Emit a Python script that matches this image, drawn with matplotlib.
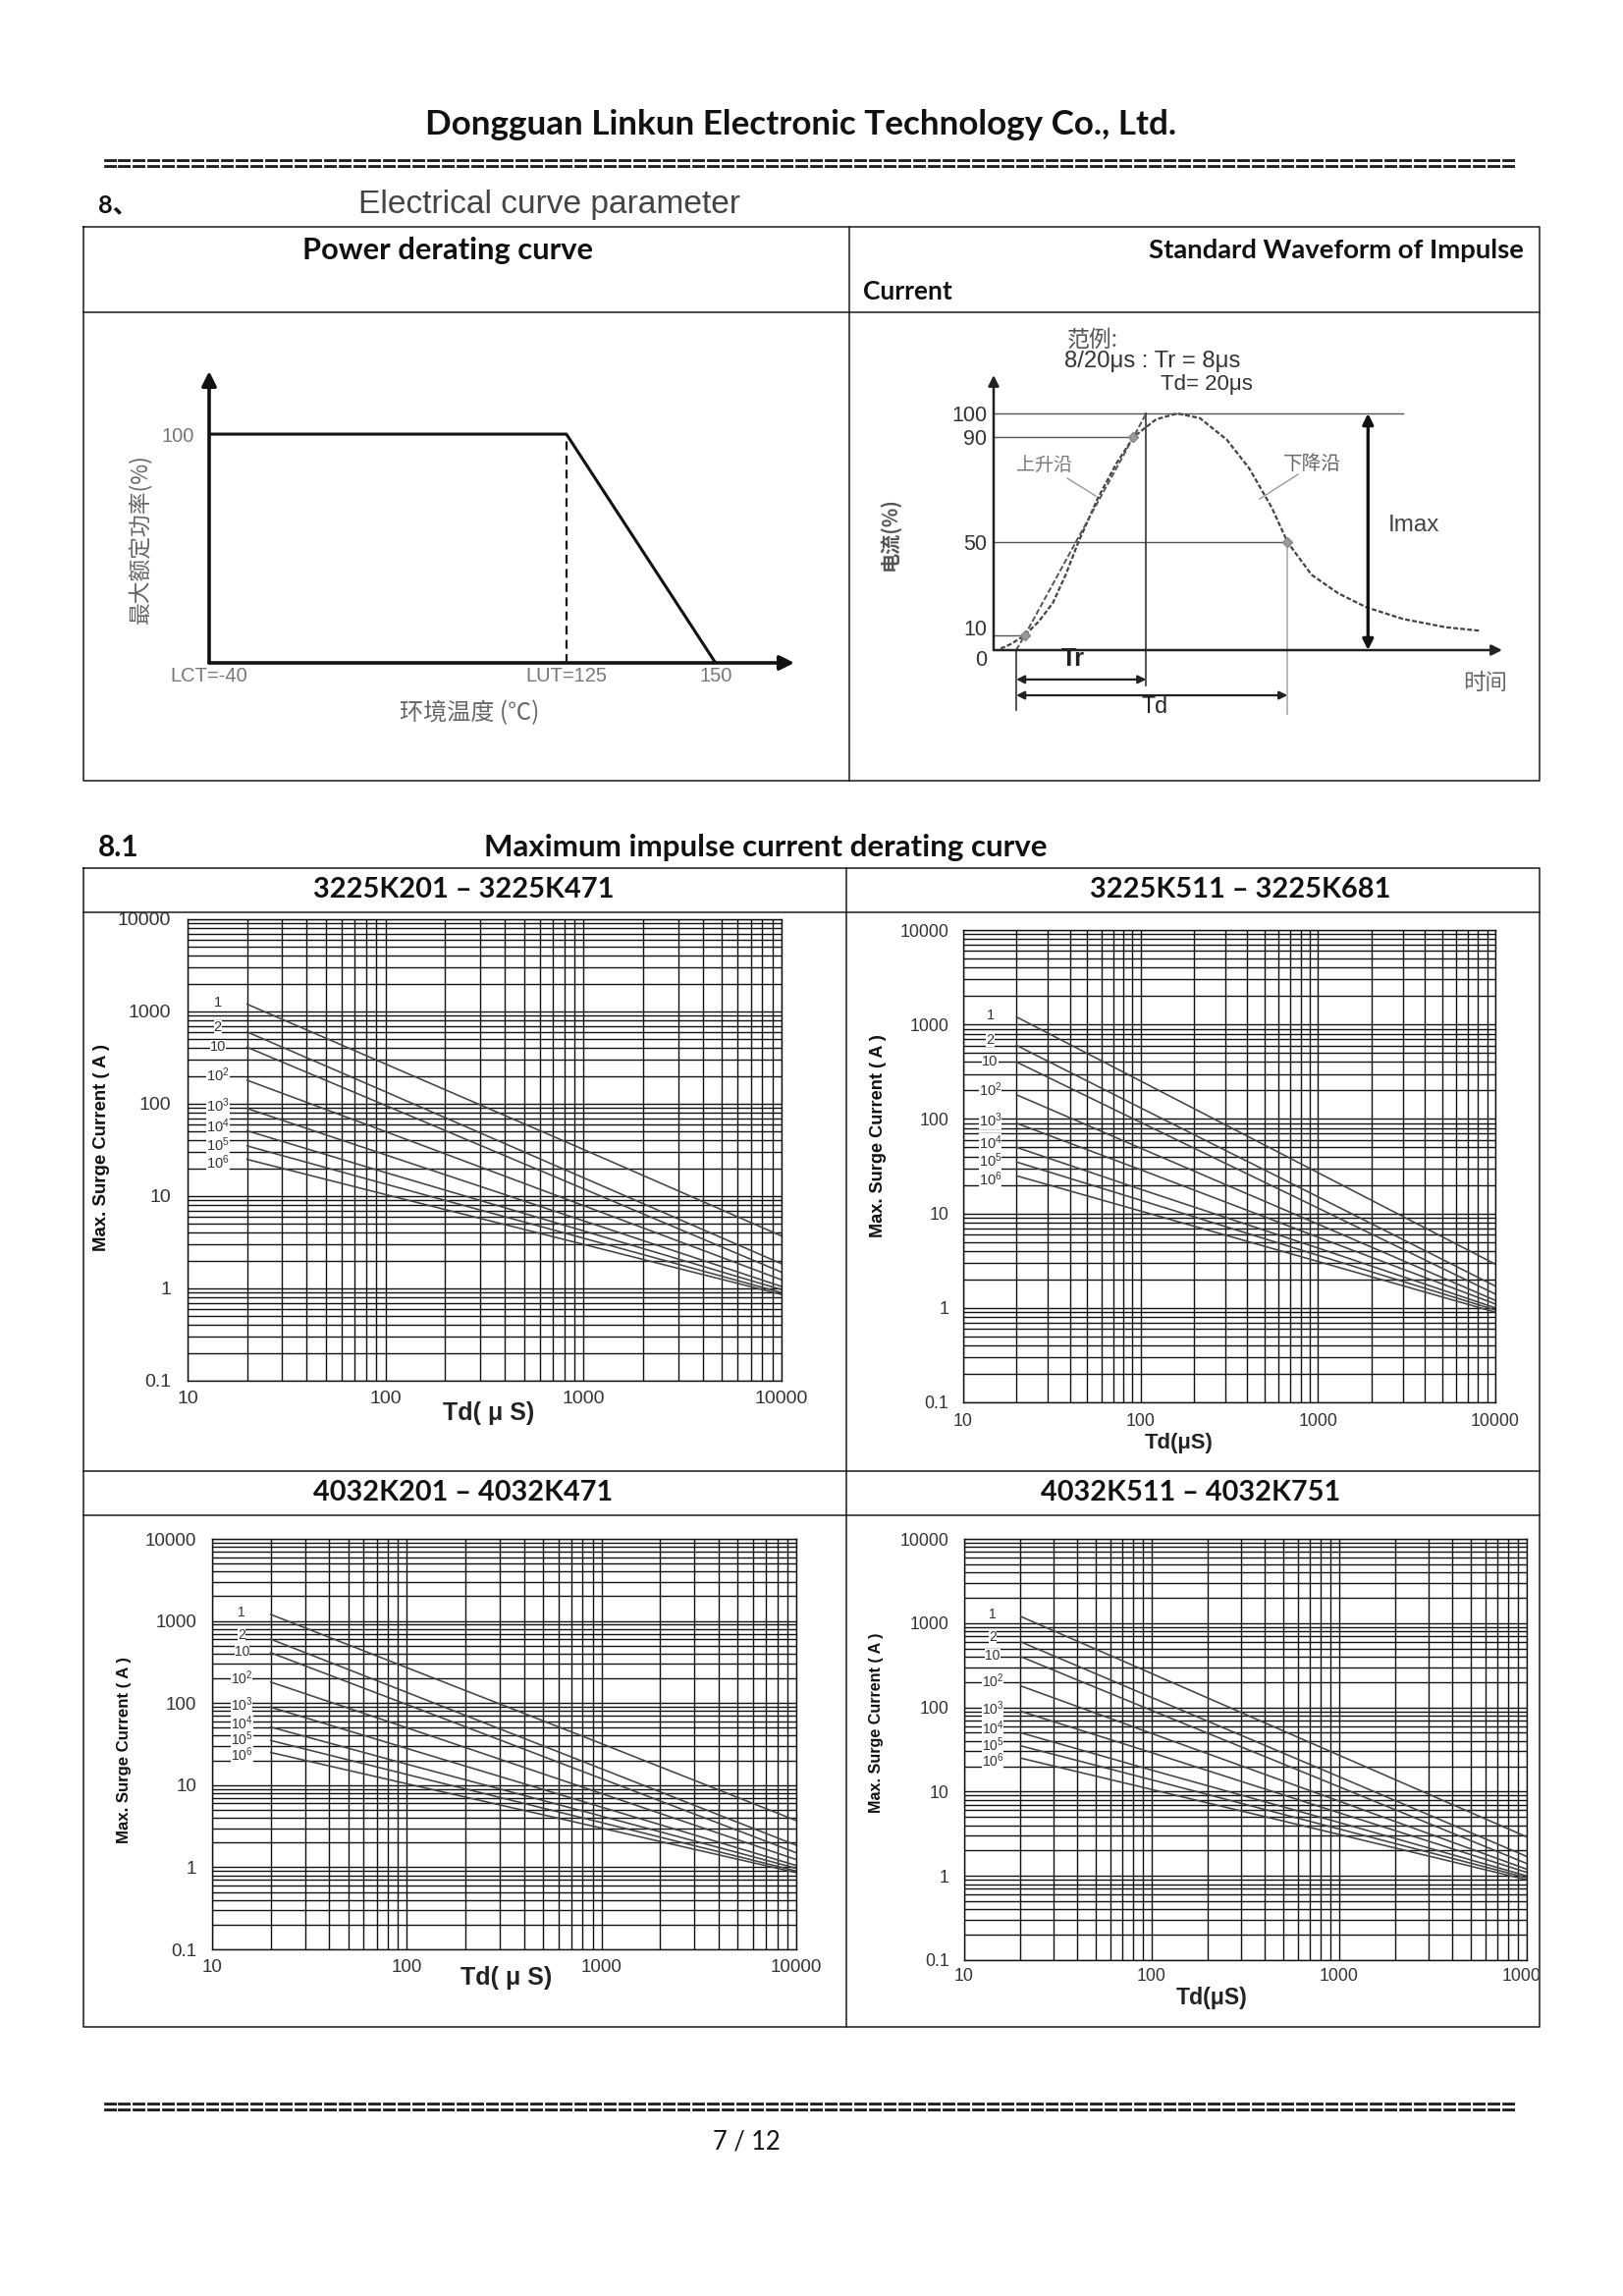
import numpy as np
import matplotlib
matplotlib.use('Agg')
import matplotlib.pyplot as plt
from matplotlib.lines import Line2D
from matplotlib.ticker import FixedLocator, NullFormatter, LogLocator
from matplotlib.transforms import Bbox, TransformedBbox

plt.rcParams['font.family'] = ['Liberation Sans', 'DejaVu Sans']
plt.rcParams['mathtext.fontset'] = 'custom'
plt.rcParams['mathtext.rm'] = 'Liberation Sans'
plt.rcParams['mathtext.it'] = 'Liberation Sans:italic'
plt.rcParams['mathtext.bf'] = 'Liberation Sans:bold'

# ------------------------------------------------------------------ data
# 8. Power derating curve
DERATE_TEMP = [-40, 125, 150]
DERATE_POWER = [100, 100, 0]
DERATE_XLABELS = ['LCT=-40', 'LUT=125', '150']
DERATE_YTICKS = [100]

# Standard 8/20 us impulse waveform (time in us, current in %)
WAVE_T = [0.5, 1.2, 2.2, 3.2, 4.2, 5.1, 6.0, 7.4, 8.7, 9.9, 11.5, 13.0, 14.6,
          16.5, 18.1, 19.7, 20.8, 22.5, 24.4, 26.4, 29.0, 32.0, 34.4]
WAVE_I = [1, 4, 10, 16, 24, 36, 50, 67, 80, 90, 97.5, 100, 98,
          89, 78, 63, 50, 36, 28, 22, 17, 13.5, 12]
RISE_T = [1.6, 2.2, 9.9, 10.8]
RISE_I = [0, 10, 90, 100]
MARK_T = [2.2, 9.9, 20.8]
MARK_I = [10, 90, 50]
LEVELS = [100, 90, 50, 10]
LEVEL_END_T = [29.0, 9.9, 20.8, 2.2]
WAVE_YTICKS = [0, 10, 50, 90, 100]
T_O1, T_TR_END, T_TD_END, T_IMAX = 1.6, 10.8, 20.8, 26.5

# 8.1 Maximum impulse current derating curves
TD_US = [20, 100, 1000, 10000]
PULSE_LABELS = ['1', '2', '10', '10$^{2}$', '10$^{3}$', '10$^{4}$', '10$^{5}$', '10$^{6}$']
SURGE_LEFT = [[1200, 270, 32, 3.7],
              [600, 135, 15.8, 1.85],
              [410, 96, 12, 1.5],
              [180, 50, 7.9, 1.24],
              [89, 28, 5.4, 1.05],
              [51, 18, 4.2, 0.97],
              [35, 13.5, 3.5, 0.9],
              [25, 10.4, 3.0, 0.86]]
SURGE_RIGHT = [[1200, 252, 27, 2.9],
               [600, 131, 15, 1.7],
               [400, 92, 11.4, 1.4],
               [180, 49, 7.7, 1.2],
               [90, 29, 5.6, 1.1],
               [50, 18, 4.3, 1.0],
               [35, 13.8, 3.6, 0.95],
               [25, 10.6, 3.1, 0.9]]
X_TICKS = [10, 100, 1000, 10000]
X_TICKLABELS = ['10', '100', '1000', '10000']
Y_TICKS = [0.1, 1, 10, 100, 1000, 10000]
Y_TICKLABELS = ['0.1', '1', '10', '100', '1000', '10000']
PANEL_TITLES = ['3225K201 \u2013 3225K471', '3225K511 \u2013 3225K681',
                '4032K201 \u2013 4032K471', '4032K511 \u2013 4032K751']

# label placement factors (layout only, relative to each curve's first point)
LABEL_NUDGE = [1.05, 1.13, 1.02, 1.13, 1.07, 1.13, 1.04, 0.93]

# ------------------------------------------------------------------ page
W, H = 1653, 2338
fig = plt.figure(figsize=(W / 100, H / 100), dpi=100)
fig.patch.set_facecolor('white')
renderer = fig.canvas.get_renderer()

HEAD = ['Lato', 'Noto Sans CJK SC', 'DejaVu Sans']
CJK = ['Noto Sans CJK SC', 'DejaVu Sans']
NARROW = ['Liberation Sans Narrow', 'Liberation Sans', 'DejaVu Sans']


def ax_at(l, t, r, b):
    return fig.add_axes([l / W, 1 - b / H, (r - l) / W, (b - t) / H])


def fit_text(x, y, s, length, size0=20, rot=0, **kw):
    t = fig.text(x / W, 1 - y / H, s, fontsize=size0, rotation=rot, **kw)
    bb = t.get_window_extent(renderer=renderer)
    cur = bb.height if rot in (90, 270) else bb.width
    t.set_fontsize(size0 * length / cur)
    return t


def fline(xs, ys, **kw):
    kw.setdefault('color', '#1a1a1a')
    kw.setdefault('lw', 1.1)
    fig.add_artist(Line2D([x / W for x in xs], [1 - y / H for y in ys],
                          transform=fig.transFigure, **kw))


def frect(l, t, r, b, **kw):
    fline([l, r, r, l, l], [t, t, b, b, t], **kw)


# header
fit_text(816, 127, 'Dongguan Linkun Electronic Technology Co., Ltd.', 765,
         family=HEAD, weight='bold', ha='center', va='center', color='#111')
fit_text(825, 168, '=' * 96, 1450, family='DejaVu Sans Mono', weight='bold',
         ha='center', va='center', color='#222')
fit_text(100, 209, '8\u3001', 40, family=HEAD, weight='bold', ha='left', va='center', color='#111')
fit_text(365, 209, 'Electrical curve parameter', 388, ha='left', va='center', color='#444')

# table 1
frect(85, 231, 1568, 795)
fline([85, 1568], [318, 318])
fline([865, 865], [231, 795])
fit_text(456, 255, 'Power derating curve', 295, family=HEAD, weight='bold',
         ha='center', va='center', color='#111')
fit_text(1552, 255, 'Standard Waveform of Impulse', 382, family=HEAD, weight='bold',
         ha='right', va='center', color='#111')
fit_text(879, 297, 'Current', 91, family=HEAD, weight='bold', ha='left', va='center', color='#111')


# ---------------- power derating chart
def fwd_t(t):
    return np.interp(t, [-60, -40, 125, 150, 200], [-44, 0, 364, 516, 820])


def inv_t(p):
    return np.interp(p, [-44, 0, 364, 516, 820], [-60, -40, 125, 150, 200])


axd = ax_at(213, 378, 809, 675)
axd.set_xscale('function', functions=(fwd_t, inv_t))
axd.set_xlim(-40, 163.2)
axd.set_ylim(0, 127.5)
for s in axd.spines.values():
    s.set_visible(False)
axd.patch.set_alpha(0)
axd.plot(DERATE_TEMP, DERATE_POWER, color='#111', lw=2.2, solid_capstyle='butt', clip_on=False)
axd.plot([DERATE_TEMP[1], DERATE_TEMP[1]], [0, DERATE_POWER[1]], color='#111', lw=1.6,
         ls=(0, (4, 2.5)))
arrow_kw = dict(arrowstyle='-|>', color='#111', lw=2.6, mutation_scale=22, shrinkA=0, shrinkB=0)
axd.annotate('', xy=(0, 1), xytext=(0, 0), xycoords='axes fraction', arrowprops=arrow_kw)
axd.annotate('', xy=(1, 0), xytext=(0, 0), xycoords='axes fraction', arrowprops=arrow_kw)
axd.set_xticks(DERATE_TEMP, labels=DERATE_XLABELS)
axd.set_yticks(DERATE_YTICKS, labels=[str(v) for v in DERATE_YTICKS])
axd.xaxis.set_minor_locator(FixedLocator([]))
axd.tick_params(length=0, labelsize=14.5, labelcolor='#777')
axd.tick_params(axis='x', pad=3)
axd.tick_params(axis='y', pad=11)
fit_text(142, 549, '最大额定功率(%)', 173, rot=90, family=CJK, ha='center', va='center', color='#666')
fit_text(478, 726, '环境温度 (℃)', 142, family=CJK, ha='center', va='center', color='#666')


# ---------------- standard waveform chart
def fwd_y(v):
    return np.interp(v, [-50, 0, 10, 50, 90, 100, 140], [-120.5, 0, 15, 110, 217, 241, 337])


def inv_y(p):
    return np.interp(p, [-120.5, 0, 15, 110, 217, 241, 337], [-50, 0, 10, 50, 90, 100, 140])


axw = ax_at(1012, 382, 1530, 662)
axw.set_yscale('function', functions=(fwd_y, inv_y))
axw.set_xlim(0, 36)
axw.set_ylim(0, 116.25)
for s in axw.spines.values():
    s.set_visible(False)
axw.patch.set_alpha(0)
for lv, te in zip(LEVELS, LEVEL_END_T):
    axw.plot([0, te], [lv, lv], color='#555', lw=1.0)
axw.plot([T_O1, T_O1], [0, -25.3], color='#333', lw=1.2, clip_on=False)
axw.plot([T_TR_END, T_TR_END], [100, -15], color='#333', lw=1.2, clip_on=False)
axw.plot([T_TD_END, T_TD_END], [50, -27], color='#aaa', lw=1.2, clip_on=False)
axw.plot(WAVE_T, WAVE_I, color='#444', lw=1.6, ls=(0, (2.2, 1.0)))
axw.plot(RISE_T, RISE_I, color='#555', lw=1.4, ls=(0, (3, 1.3)))
axw.plot(MARK_T, MARK_I, 'D', color='#999', ms=5, mec='#888')
ax_kw = dict(arrowstyle='-|>', color='#222', lw=1.8, mutation_scale=16, shrinkA=0, shrinkB=0)
axw.annotate('', xy=(0, 1), xytext=(0, 0), xycoords='axes fraction', arrowprops=ax_kw)
axw.annotate('', xy=(1, 0), xytext=(0, 0), xycoords='axes fraction', arrowprops=ax_kw)
dbl = dict(arrowstyle='<|-|>', color='#222', lw=1.6, mutation_scale=12, shrinkA=0, shrinkB=0)
axw.annotate('', xy=(T_TR_END, -12.4), xytext=(T_O1, -12.4), arrowprops=dbl, annotation_clip=False)
axw.annotate('', xy=(T_TD_END, -19.1), xytext=(T_O1, -19.1), arrowprops=dbl, annotation_clip=False)
imax = dict(arrowstyle='<|-|>', color='#111', lw=2.4, mutation_scale=16, shrinkA=0, shrinkB=0)
axw.annotate('', xy=(T_IMAX, 100), xytext=(T_IMAX, 0), arrowprops=imax, annotation_clip=False)
axw.set_xticks([])
axw.set_yticks(WAVE_YTICKS, labels=[str(v) for v in WAVE_YTICKS])
axw.yaxis.set_minor_locator(FixedLocator([]))
axw.tick_params(length=0, labelsize=15.5, labelcolor='#333', pad=5)
wlabels = axw.get_yticklabels()
wlabels[1].set_verticalalignment('baseline')   # "10" sits just above its line
wlabels[0].set_verticalalignment('top')        # "0" hangs just below the "10"

fit_text(1087, 346, '范例:', 52, family=CJK, ha='left', va='center', color='#555')
fit_text(1084, 368, '8/20\u03bcs : Tr = 8\u03bcs', 180, ha='left', va='center', color='#333')
fit_text(1182, 391, 'Td= 20\u03bcs', 94, ha='left', va='center', color='#333')
fit_text(906, 544, '电流(%)', 75, rot=90, family=CJK, weight='bold', ha='center', va='center', color='#555')
fit_text(1064, 473, '上升沿', 57, family=CJK, ha='center', va='center', color='#777')
fit_text(1336, 473, '下降沿', 59, family=CJK, ha='center', va='center', color='#666')
fline([1087, 1116], [487, 505], color='#999', lw=1.0)
fline([1322, 1283], [483, 508], color='#999', lw=1.0)
fit_text(1440, 535, 'Imax', 52, ha='center', va='center', color='#444')
fit_text(1513, 696, '时间', 45, family=CJK, ha='center', va='center', color='#666')
fit_text(1093, 671, 'Tr', 24, weight='bold', ha='center', va='center', color='#222')
fit_text(1176, 720, 'Td', 27, ha='center', va='center', color='#222')

# ---------------- section 8.1
fit_text(100, 863, '8.1', 42, family=HEAD, weight='bold', ha='left', va='center', color='#111')
fit_text(780, 863, 'Maximum impulse current derating curve', 573, family=HEAD, weight='bold',
         ha='center', va='center', color='#111')

frect(85, 884, 1568, 2064)
for yy in (929, 1498, 1543):
    fline([85, 1568], [yy, yy])
fline([862, 862], [884, 2064])
for (cx, cy), title in zip([(472, 906), (1263, 906), (472, 1520), (1213, 1520)], PANEL_TITLES):
    fit_text(cx, cy, title, 305, family=HEAD, weight='bold', ha='center', va='center', color='#111')


def surge_panel(box, values, fs, lfs, ypad, xpad, ylab, td, td_text, clipx=None):
    ax = ax_at(*box)
    ax.set_xscale('log')
    ax.set_yscale('log')
    ax.set_xlim(10, 10000)
    ax.set_ylim(0.1, 10000)
    ax.xaxis.set_major_locator(FixedLocator(X_TICKS))
    ax.yaxis.set_major_locator(FixedLocator(Y_TICKS))
    ax.xaxis.set_minor_locator(LogLocator(base=10, subs=np.arange(2, 10), numticks=100))
    ax.yaxis.set_minor_locator(LogLocator(base=10, subs=np.arange(2, 10), numticks=100))
    ax.xaxis.set_minor_formatter(NullFormatter())
    ax.yaxis.set_minor_formatter(NullFormatter())
    ax.set_xticklabels(X_TICKLABELS)
    ax.set_yticklabels(Y_TICKLABELS)
    ax.grid(True, which='both', color='#111', lw=1.0)
    ax.set_axisbelow(True)
    for s in ax.spines.values():
        s.set_color('#111')
        s.set_lw(1.0)
    ax.tick_params(which='both', length=0, labelsize=fs, labelcolor='#333')
    ax.tick_params(axis='y', pad=ypad)
    ax.tick_params(axis='x', pad=xpad)
    for vals, lab, nud in zip(values, PULSE_LABELS, LABEL_NUDGE):
        ax.plot(TD_US, vals, color='#444', lw=1.15, zorder=2)
        ax.text(14.2, vals[0] * nud, lab, ha='center', va='center', fontsize=lfs, color='#333',
                zorder=3, bbox=dict(facecolor='white', edgecolor='none', pad=0.0))
    if clipx is not None:
        bb = TransformedBbox(Bbox.from_extents(0, 0, clipx / W, 1), fig.transFigure)
        for lab in ax.get_xticklabels():
            lab.set_clip_box(bb)
            lab.set_clip_on(True)
    fit_text(ylab[0], ylab[1], 'Max. Surge Current ( A )', ylab[2], rot=90, family=NARROW,
             weight='bold', ha='center', va='center', color='#111')
    fit_text(td[0], td[1], td_text, td[2], weight='bold', ha='center', va='center', color='#222')
    return ax


surge_panel((191, 936, 796, 1406), SURGE_LEFT, 14, 10.5, 12, 7,
            (104, 1168, 212), (498, 1439, 93), 'Td( \u03bc S)')
surge_panel((981, 947, 1523, 1428), SURGE_RIGHT, 12.8, 10.5, 10.8, 8,
            (894, 1157, 206), (1201, 1470, 70), 'Td(\u03bcS)')
surge_panel((216, 1567, 811, 1985), SURGE_LEFT, 13.5, 10, 11.5, 7,
            (127, 1782, 191), (516, 2014, 93), 'Td( \u03bc S)')
surge_panel((982, 1567, 1555, 1996), SURGE_RIGHT, 12.7, 10, 10.8, 6,
            (892, 1754, 183), (1234, 2035, 73), 'Td(\u03bcS)', clipx=1567)

# footer
fit_text(825, 2147, '=' * 96, 1450, family='DejaVu Sans Mono', weight='bold',
         ha='center', va='center', color='#222')
fit_text(760, 2181, '7 / 12', 69, family=HEAD, ha='center', va='center', color='#111')

fig.savefig('out.png', dpi=100, facecolor='white')
